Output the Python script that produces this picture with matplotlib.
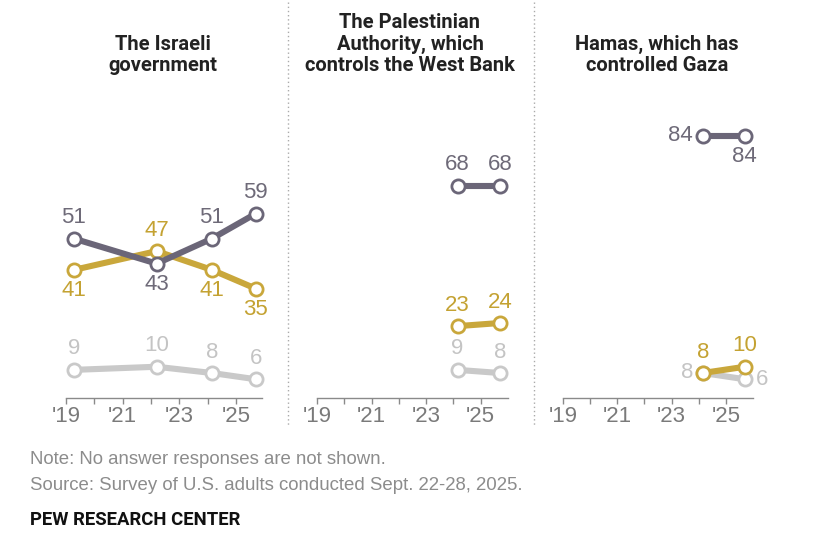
import matplotlib
matplotlib.use("Agg")
import matplotlib.pyplot as plt
from matplotlib.lines import Line2D

# data
titles = ["The Israeli\ngovernment",
          "The Palestinian\nAuthority, which\ncontrols the West Bank",
          "Hamas, which has\ncontrolled Gaza"]

years_full = [2019.28, 2022.2, 2024.15, 2025.7]
years_short = [2024.15, 2025.7]

israel_dark = [51, 43, 51, 59]
israel_gold = [41, 47, 41, 35]
israel_gray = [9, 10, 8, 6]

pa_dark = [68, 68]
pa_gold = [23, 24]
pa_gray = [9, 8]

hamas_dark = [84, 84]
hamas_gold = [8, 10]
hamas_gray = [8, 6]

tick_years = [2019, 2021, 2023, 2025]
tick_labels = ["'19", "'21", "'23", "'25"]

DARK = "#6b6678"
GOLD = "#c9a73b"
GRAY = "#c9c9c9"
DARK_TXT = "#6e6a78"
GOLD_TXT = "#c4a232"
GRAY_TXT = "#c4c4c4"

W, H = 828, 554
fig = plt.figure(figsize=(W / 100, H / 100), dpi=100)

FONT = ["Liberation Sans", "DejaVu Sans"]
TITLE_FONT = ["Roboto", "DejaVu Sans"]


def px_axes(x0, x1, y_zero, y_top):
    return fig.add_axes([x0 / W, (H - y_zero) / H, (x1 - x0) / W,
                         (y_zero - y_top) / H])


# pixels per percentage point = 3.125, top of axes at value 90
panels = [
    dict(x0=66, x1=262, xmax=2025.92, years=years_full,
         series=[(israel_gray, GRAY, GRAY_TXT, ["a", "a", "a", "a"]),
                 (israel_gold, GOLD, GOLD_TXT, ["b", "a", "b", "b"]),
                 (israel_dark, DARK, DARK_TXT, ["a", "b", "a", "a"])]),
    dict(x0=317, x1=508, xmax=2026.0, years=years_short,
         series=[(pa_gray, GRAY, GRAY_TXT, ["a", "a"]),
                 (pa_gold, GOLD, GOLD_TXT, ["a", "a"]),
                 (pa_dark, DARK, DARK_TXT, ["a", "a"])]),
    dict(x0=563, x1=753, xmax=2026.0, years=years_short,
         series=[(hamas_gray, GRAY, GRAY_TXT, ["l", "r"]),
                 (hamas_gold, GOLD, GOLD_TXT, ["a", "a"]),
                 (hamas_dark, DARK, DARK_TXT, ["l", "b"])]),
]

y_zero = 398
ppp = 3.125
ytop_val = 90
title_centers = [163, 410, 657]

for i, p in enumerate(panels):
    ax = px_axes(p["x0"], p["x1"], y_zero, y_zero - ytop_val * ppp)
    ax.set_xlim(2019, p["xmax"])
    ax.set_ylim(0, ytop_val)
    for s in ["top", "right", "left"]:
        ax.spines[s].set_visible(False)
    ax.spines["bottom"].set_color("#8a8a8a")
    ax.spines["bottom"].set_linewidth(1.0)
    ax.set_yticks([])
    ax.set_xticks(tick_years)
    ax.set_xticklabels(tick_labels, fontsize=16, color="#7a7a7a", family=FONT)
    ax.set_xticks(range(2019, 2026), minor=True)
    ax.tick_params(axis="x", which="both", length=4, width=1, color="#8a8a8a",
                   direction="out", pad=1.5)
    ax.patch.set_alpha(0)
    for vals, col, tcol, pos in p["series"]:
        ax.plot(p["years"], vals, color=col, lw=4.4, solid_capstyle="round",
                marker="o", ms=9.5, mfc="white", mec=col, mew=2, zorder=3,
                clip_on=False)
        for x, v, where in zip(p["years"], vals, pos):
            if where == "a":
                off, ha, va = (0, 7.5), "center", "bottom"
            elif where == "b":
                off, ha, va = (0, -7.5), "center", "top"
            elif where == "l":
                off, ha, va = (-7, 0), "right", "center"
            else:
                off, ha, va = (8, 0), "left", "center"
            ax.annotate(str(v), (x, v), xytext=off, textcoords="offset points",
                        ha=ha, va=va, fontsize=16, color=tcol, family=FONT,
                        annotation_clip=False)
    fig.text(title_centers[i] / W, 1 - 75 / H, titles[i], ha="center",
             va="bottom", fontsize=14.5, fontweight="bold", color="#222222",
             family=TITLE_FONT, linespacing=1.15)

# dotted separators
for xs in [288, 534]:
    fig.add_artist(Line2D([xs / W, xs / W], [1 - 2 / H, 1 - 426 / H],
                          transform=fig.transFigure, color="#aaaaaa",
                          lw=1, linestyle=(0, (1, 2))))

fig.text(30 / W, 1 - 460 / H, "Note: No answer responses are not shown.",
         fontsize=13.4, color="#8c8c8c", family=FONT, va="center")
fig.text(30 / W, 1 - 485 / H,
         "Source: Survey of U.S. adults conducted Sept. 22-28, 2025.",
         fontsize=13.4, color="#8c8c8c", family=FONT, va="center")
fig.text(30 / W, 1 - 520 / H, "PEW RESEARCH CENTER", fontsize=13.3,
         fontweight="bold", color="#111111", family=TITLE_FONT, va="center")

fig.savefig("out.png", dpi=100, facecolor="white")
